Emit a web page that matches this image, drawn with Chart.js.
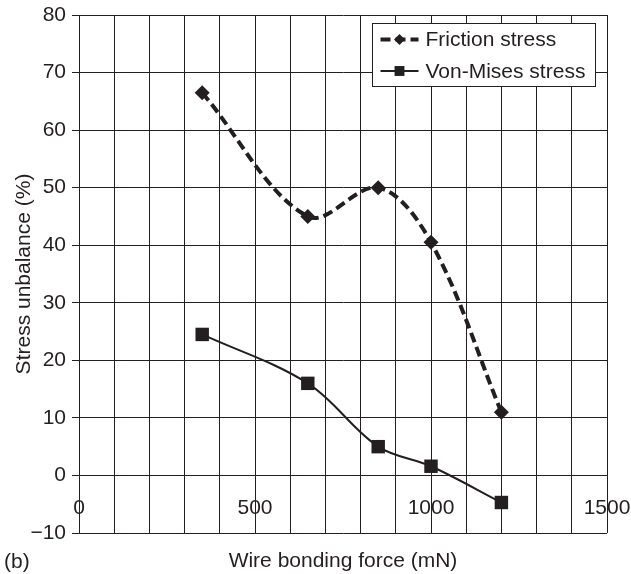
<!DOCTYPE html>
<html>
<head>
<meta charset="utf-8">
<script src="https://cdn.jsdelivr.net/npm/chart.js@4"></script>
<style>
  body { margin: 0; background: #fff; }
  canvas { display: block; }
</style>
</head>
<body>
<canvas id="stressChart" width="631" height="574"></canvas>
<script>
// Wire bonding force (mN) and the stress unbalance (%) measured at each force
const bondingForce = [350, 650, 850, 1000, 1200];
const frictionStress = [66.5, 45, 50, 40.5, 11];
const vonMisesStress = [24.5, 16, 5, 1.6, -4.7];
const seriesNames = ['Friction stress', 'Von-Mises stress'];
const xLabelValues = [0, 500, 1000, 1500];

const ink = '#231f20';
const fontFamily = '"Liberation Sans", Arial, sans-serif';
Chart.defaults.font.family = fontFamily;
Chart.defaults.color = ink;

function toPoints(ys) {
    return bondingForce.map((x, i) => ({ x: x, y: ys[i] }));
}

// Legend box sitting inside the plot, top right
const insetLegend = {
    id: 'insetLegend',
    afterDraw(chart) {
        const ctx = chart.ctx;
        const area = chart.chartArea;
        const w = 223, h = 63;
        const left = area.right - 11.5 - w;
        const top = area.top + 8.5;

        ctx.save();
        ctx.fillStyle = '#fff';
        ctx.fillRect(left, top, w, h);
        ctx.strokeStyle = ink;
        ctx.lineWidth = 1;
        ctx.strokeRect(left, top, w, h);

        const rows = [top + 16, top + 47.5];
        chart.data.datasets.forEach((ds, i) => {
            const y = rows[i];
            const x0 = left + 8, x1 = left + 46;
            ctx.beginPath();
            ctx.setLineDash(ds.borderDash || []);
            ctx.lineWidth = ds.borderWidth;
            ctx.strokeStyle = ds.borderColor;
            ctx.moveTo(x0, y);
            ctx.lineTo(x1, y);
            ctx.stroke();
            ctx.setLineDash([]);
            ctx.fillStyle = ds.pointBackgroundColor;
            Chart.helpers.drawPoint(ctx, {
                pointStyle: ds.pointStyle,
                radius: ds.pointStyle === 'rect' ? 7 : 5.5,
                rotation: 0,
                borderWidth: 0
            }, (x0 + x1) / 2, y);

            ctx.fillStyle = ink;
            ctx.font = '21px ' + fontFamily;
            ctx.textAlign = 'left';
            ctx.textBaseline = 'middle';
            ctx.fillText(ds.label, left + 53, y + 1);
        });

        // panel tag in the lower left corner
        ctx.font = '21px ' + fontFamily;
        ctx.textAlign = 'left';
        ctx.textBaseline = 'middle';
        ctx.fillText('(b)', 4, 562);
        ctx.restore();
    }
};

const ctx = document.getElementById('stressChart').getContext('2d');
const stressChart = new Chart(ctx, {
    type: 'line',
    data: {
        datasets: [{
            label: seriesNames[0],
            data: toPoints(frictionStress),
            borderColor: ink,
            borderWidth: 4,
            borderDash: [10, 5],
            tension: 0.35,
            pointStyle: 'rectRot',
            pointRadius: 7.5,
            pointBackgroundColor: ink,
            pointBorderWidth: 0,
            fill: false
        }, {
            label: seriesNames[1],
            data: toPoints(vonMisesStress),
            borderColor: ink,
            borderWidth: 2,
            tension: 0.35,
            pointStyle: 'rect',
            pointRadius: 9.5,
            pointBackgroundColor: ink,
            pointBorderWidth: 0,
            fill: false
        }]
    },
    options: {
        responsive: false,
        animation: false,
        devicePixelRatio: 1,
        layout: { padding: { left: 0, right: 24, top: 15, bottom: 0 } },
        plugins: {
            legend: { display: false },
            tooltip: { enabled: false }
        },
        scales: {
            x: {
                type: 'linear',
                min: 0,
                max: 1500,
                position: { y: 0 },
                ticks: {
                    stepSize: 100,
                    autoSkip: false,
                    maxRotation: 0,
                    padding: 20,
                    font: { size: 21 },
                    color: ink,
                    callback: v => xLabelValues.includes(v) ? String(v) : ''
                },
                grid: { color: ink, lineWidth: 1, drawTicks: false },
                border: { display: true, color: ink, width: 1 },
                afterFit: s => {
                    s.height = 0;
                    s.paddingLeft = 0;
                    s.paddingRight = 0;
                }
            },
            xTitle: {
                type: 'linear',
                position: 'bottom',
                min: 0,
                max: 1500,
                ticks: { display: false },
                grid: { display: false },
                border: { display: false },
                title: {
                    display: true,
                    text: 'Wire bonding force (mN)',
                    font: { size: 21 },
                    color: ink,
                    padding: { top: 0, bottom: 0 }
                },
                afterFit: s => {
                    s.height = 41;
                    s.paddingLeft = 0;
                    s.paddingRight = 0;
                }
            },
            y: {
                min: -10,
                max: 80,
                ticks: {
                    stepSize: 10,
                    padding: 6,
                    font: { size: 21 },
                    color: ink,
                    callback: v => v < 0 ? '\u2212' + Math.abs(v) : String(v)
                },
                grid: { color: ink, lineWidth: 1, drawTicks: true, tickLength: 7 },
                border: { display: true, color: ink, width: 1 },
                title: {
                    display: true,
                    text: 'Stress unbalance (%)',
                    font: { size: 21 },
                    color: ink,
                    padding: { top: 12, bottom: 0 }
                },
                afterFit: s => {
                    s.width = 79;
                    s.paddingTop = 0;
                    s.paddingBottom = 0;
                }
            }
        }
    },
    plugins: [insetLegend]
});
</script>
</body>
</html>
